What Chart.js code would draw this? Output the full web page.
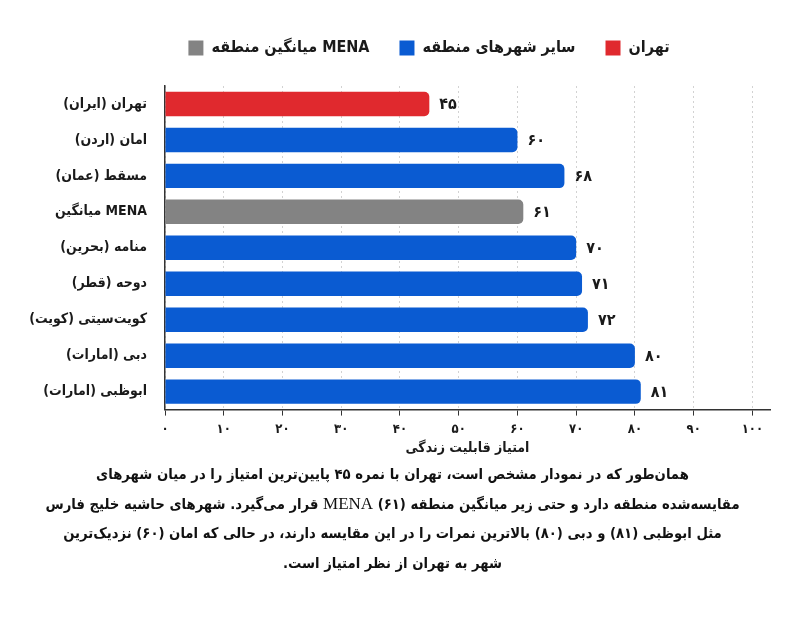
<!DOCTYPE html>
<html lang="fa">
<head>
<meta charset="utf-8">
<script src="https://cdn.jsdelivr.net/npm/chart.js@4.4.1/dist/chart.umd.min.js"></script>
<style>
  html, body { margin: 0; padding: 0; background: #ffffff; }
  #wrap { position: relative; width: 785px; height: 634px; background: #fff; }
  #chartBox { position: absolute; left: 0; top: 0; width: 785px; height: 467px; }
  #note {
    position: absolute; left: 0; top: 459px; width: 785px;
    direction: rtl; text-align: center;
    font-family: 'DejaVu Sans Condensed', 'DejaVu Sans', sans-serif; font-weight: bold;
    font-size: 14.7px; line-height: 29.5px; color: #111;
  }
  #note .lat { font-family: 'Liberation Serif', serif; font-size: 17px; font-weight: normal; }
</style>
</head>
<body>
<div id="wrap">
  <div id="chartBox"><canvas id="c"></canvas></div>
  <div id="note">
    همان‌طور که در نمودار مشخص است، تهران با نمره ۴۵ پایین‌ترین امتیاز را در میان شهرهای<br>
    مقایسه‌شده منطقه دارد و حتی زیر میانگین منطقه (۶۱) <span class="lat">MENA</span> قرار می‌گیرد. شهرهای حاشیه خلیج فارس<br>
    مثل ابوظبی (۸۱) و دبی (۸۰) بالاترین نمرات را در این مقایسه دارند، در حالی که امان (۶۰) نزدیک‌ترین<br>
    شهر به تهران از نظر امتیاز است.
  </div>
</div>
<script>
// ---- data ----
const categories = ['تهران (ایران)', 'امان (اردن)', 'مسقط (عمان)', 'میانگین MENA', 'منامه (بحرین)', 'دوحه (قطر)', 'کویت‌سیتی (کویت)', 'دبی (امارات)', 'ابوظبی (امارات)'];
const scores = [45, 60, 68, 61, 70, 71, 72, 80, 81];
const groups = ['tehran', 'other', 'other', 'mena', 'other', 'other', 'other', 'other', 'other'];
const seriesNames = { tehran: 'تهران', other: 'سایر شهرهای منطقه', mena: 'میانگین منطقه MENA' };
const seriesColors = { tehran: '#E0292E', other: '#0A5BD2', mena: '#838383' };
const seriesOrder = ['tehran', 'other', 'mena'];
const xTickValues = [0, 10, 20, 30, 40, 50, 60, 70, 80, 90, 100];
const xTitle = 'امتیاز قابلیت زندگی';

const faDigits = '۰۱۲۳۴۵۶۷۸۹';
const toFa = n => String(n).replace(/[0-9]/g, d => faDigits[+d]);
const FONT = "'DejaVu Sans Condensed', 'DejaVu Sans', sans-serif";

const datasets = seriesOrder.map(key => ({
  label: seriesNames[key],
  data: scores.map((v, i) => groups[i] === key ? v : null),
  backgroundColor: seriesColors[key],
  borderRadius: { topRight: 5, bottomRight: 5, topLeft: 0, bottomLeft: 0 },
  borderSkipped: false,
  barPercentage: 0.68,
  categoryPercentage: 1.0
}));

const valueLabels = {
  id: 'valueLabels',
  afterDatasetsDraw(chart) {
    const ctx = chart.ctx;
    ctx.save();
    ctx.font = 'bold 16px ' + FONT;
    ctx.fillStyle = '#1a1a1a';
    ctx.textAlign = 'left';
    ctx.textBaseline = 'middle';
    chart.data.datasets.forEach((ds, di) => {
      const meta = chart.getDatasetMeta(di);
      meta.data.forEach((bar, i) => {
        const v = ds.data[i];
        if (v === null || v === undefined) return;
        ctx.fillText(toFa(v), bar.x + 10, bar.y + 1);
      });
    });
    ctx.restore();
  }
};

// legend placement: extra gap below it and a small horizontal offset
const legendPlace = {
  id: 'legendPlace',
  beforeLayout(chart) {
    const lg = chart.legend;
    if (lg && !lg._patched) {
      const origFit = lg.fit.bind(lg);
      lg.fit = function () { origFit(); this.height += 20; };
      lg._patched = true;
    }
  },
  afterLayout(chart) {
    const lg = chart.legend;
    if (lg) { lg.left += 44; lg.right += 44; }
  }
};

new Chart(document.getElementById('c'), {
  type: 'bar',
  data: { labels: categories, datasets },
  plugins: [valueLabels, legendPlace],
  options: {
    indexAxis: 'y',
    responsive: true,
    maintainAspectRatio: false,
    animation: false,
    layout: { padding: { top: 10, right: 15, bottom: 10, left: 0 } },
    plugins: {
      legend: {
        position: 'top',
        reverse: true,
        labels: {
          font: { family: FONT, size: 16, weight: 'bold' },
          color: '#1a1a1a',
          boxWidth: 15, boxHeight: 15,
          padding: 30
        }
      },
      tooltip: { enabled: false }
    },
    scales: {
      x: {
        stacked: true,
        min: 0, max: 103,
        afterBuildTicks(scale) { scale.ticks = xTickValues.map(v => ({ value: v })); },
        ticks: {
          callback: v => toFa(v),
          font: { family: FONT, size: 13, weight: 'bold' },
          color: '#1a1a1a',
          padding: 6,
          maxRotation: 0
        },
        grid: { color: '#d2d2d2', lineWidth: 1, tickLength: 6, tickColor: '#333', tickBorderDash: [] },
        border: { display: true, color: '#333', width: 1.5, dash: [2, 3] },
        title: {
          display: true, text: xTitle,
          font: { family: FONT, size: 14, weight: 'bold' },
          color: '#1a1a1a', padding: { top: -3, bottom: 0 }
        }
      },
      y: {
        stacked: true,
        afterFit(scale) { scale.width = 165; },
        ticks: {
          font: { family: FONT, size: 14, weight: 'bold' },
          color: '#1a1a1a',
          padding: 10
        },
        grid: { display: false },
        border: { display: true, color: '#333', width: 1.5 }
      }
    }
  }
});
</script>
</body>
</html>
